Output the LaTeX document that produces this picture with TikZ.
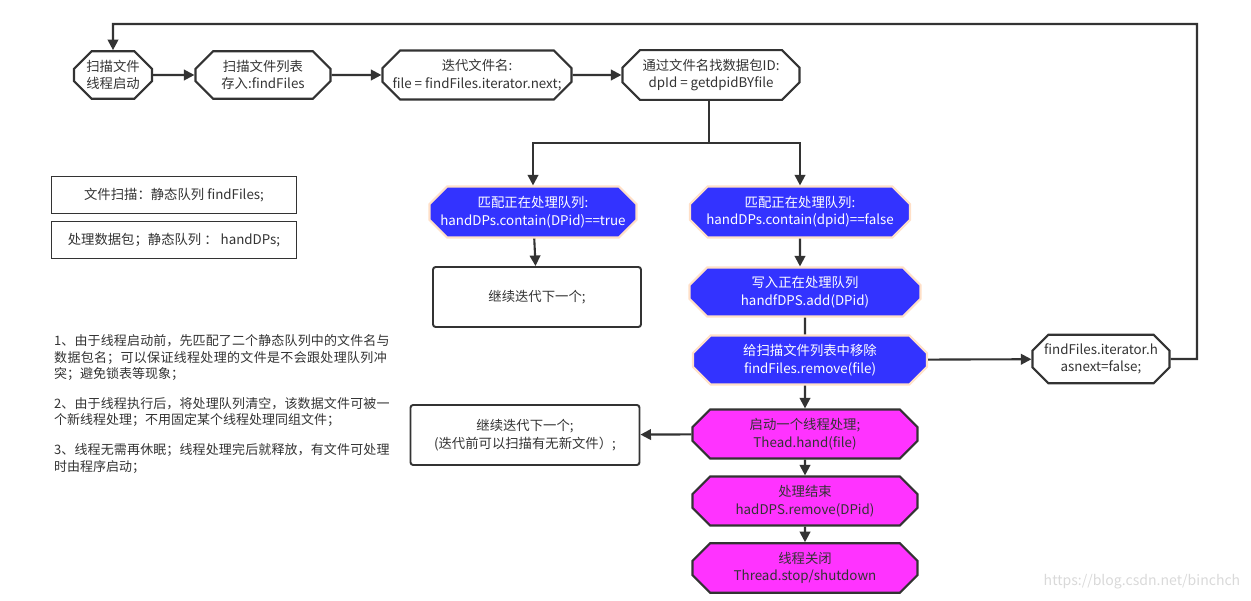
\documentclass[tikz,border=0pt]{standalone}
\usepackage{fontspec}
\setmainfont{Noto Sans CJK SC}
\XeTeXlinebreaklocale "zh"
\XeTeXlinebreakskip=0pt plus 1pt
\usetikzlibrary{shapes.misc,arrows.meta,positioning}
\definecolor{boxblue}{HTML}{3333FF}
\definecolor{boxpink}{HTML}{FF33FF}
\definecolor{edgepeach}{HTML}{FFE0C8}
\definecolor{linegray}{HTML}{333333}
\tikzset{
	octbox/.style={chamfered rectangle, chamfered rectangle xsep=5pt, chamfered rectangle ysep=5pt,
		draw=linegray, line width=1.2pt, align=center, inner sep=0pt,
		font=\fontsize{7.6}{10}\selectfont, text=linegray},
	bluestep/.style={octbox, fill=boxblue, draw=edgepeach, text=white},
	pinkstep/.style={octbox, fill=boxpink},
	plainbox/.style={rectangle, rounded corners=1.5pt, draw=linegray, line width=1.1pt,
		align=center, font=\fontsize{7.6}{10}\selectfont, text=linegray},
	flow/.style={-{Triangle[length=6pt,width=6pt]}, draw=linegray, line width=1.2pt},
}
\begin{document}
\begin{tikzpicture}[x=0.02cm, y=-0.02cm]
	\useasboundingbox (0,0) rectangle (1251,601);
	% top row
	\node[octbox, minimum width=1.56cm, minimum height=0.8cm] (start) at (113,75) {扫描文件\\线程启动};
	\node[octbox, minimum width=2.7cm, minimum height=0.8cm] (scan) at (263,75) {扫描文件列表\\存入:findFiles};
	\node[octbox, minimum width=3.78cm, minimum height=0.8cm] (iter) at (477,75) {迭代文件名:\\file = findFiles.iterator.next;};
	\node[octbox, minimum width=3.54cm, minimum height=0.94cm] (getid) at (711,75) {通过文件名找数据包ID:\\dpId = getdpidBYfile};
	% legend
	\node[plainbox, rounded corners=0pt, minimum width=4.9cm, minimum height=0.74cm] (legf) at (174,195) {文件扫描：静态队列 findFiles;};
	\node[plainbox, rounded corners=0pt, minimum width=4.9cm, minimum height=0.74cm] (legd) at (174,240) {处理数据包；静态队列 ： handDPs;};
	\node[anchor=north west, align=left, text=linegray, font=\fontsize{7.4}{9.6}\selectfont, text width=6.75cm] (notes) at (48,328)
		{1、由于线程启动前，先匹配了二个静态队列中的文件名与数据包名；可以保证线程处理的文件是不会跟处理队列冲突；避免锁表等现象；\\[7pt]
		2、由于线程执行后，将处理队列清空，该数据文件可被一个新线程处理；不用固定某个线程处理同组文件；\\[7pt]
		3、线程无需再休眠；线程处理完后就释放，有文件可处理时由程序启动；};
	% branches
	\node[bluestep, minimum width=4.14cm, minimum height=1.02cm] (found) at (533,212) {匹配正在处理队列:\\handDPs.contain(DPid)==true};
	\node[bluestep, minimum width=4.4cm, minimum height=1.02cm] (notfound) at (800,212) {匹配正在处理队列:\\handDPs.contain(dpid)==false};
	\node[plainbox, minimum width=4.16cm, minimum height=1.2cm] (next1) at (537,297) {继续迭代下一个;};
	\node[bluestep, minimum width=4.62cm, minimum height=0.96cm] (write) at (805,292) {写入正在处理队列\\handfDPS.add(DPid)};
	\node[bluestep, minimum width=4.68cm, minimum height=0.98cm] (remove) at (810,360) {给扫描文件列表中移除\\findFiles.remove(file)};
	\node[octbox, minimum width=2.74cm, minimum height=0.76cm, chamfered rectangle xsep=4pt] (hasnext) at (1101,359) {findFiles.iterator.h\\asnext=false;};
	\node[pinkstep, minimum width=4.5cm, minimum height=0.96cm] (thread) at (805,434) {启动一个线程处理;\\Thead.hand(file)};
	\node[plainbox, minimum width=4.58cm, minimum height=1.2cm] (next2) at (525,435) {继续迭代下一个;\\(迭代前可以扫描有无新文件）;};
	\node[pinkstep, minimum width=4.5cm, minimum height=0.96cm] (done) at (805,501) {处理结束\\hadDPS.remove(DPid)};
	\node[pinkstep, minimum width=4.5cm, minimum height=0.96cm] (close) at (805,568) {线程关闭\\Thread.stop/shutdown};
	\node[text=black!15, font=\fontsize{8}{10}\selectfont] (mark) at (1142,582) {https://blog.csdn.net/binchch};
	% connectors
	\coordinate (split) at (709,143);
	\coordinate (loopa) at (1197,359);
	\coordinate (loopb) at (1197,24);
	\coordinate (loopc) at (113,24);
	\draw[flow] (start) -- (scan);
	\draw[flow] (scan) -- (iter);
	\draw[flow] (iter) -- (getid);
	\draw[draw=linegray, line width=1.2pt] (getid.south -| split) -- (split);
	\draw[flow] (split) -| (found);
	\draw[flow] (split) -| (notfound);
	\draw[flow] (found) -- (next1);
	\draw[flow] (notfound) -- (notfound.south |- write.north);
	\draw[draw=linegray, line width=1.2pt] (write) -- (write.south |- remove.north);
	\draw[flow] (remove) -- (hasnext);
	\draw[flow] (remove.south -| thread) -- (thread);
	\draw[flow] (thread) -- (next2);
	\draw[flow] (thread) -- (done);
	\draw[flow] (done) -- (close);
	\draw[flow] (hasnext) -- (loopa) -- (loopb) -- (loopc) -- (start);
\end{tikzpicture}
\end{document}
